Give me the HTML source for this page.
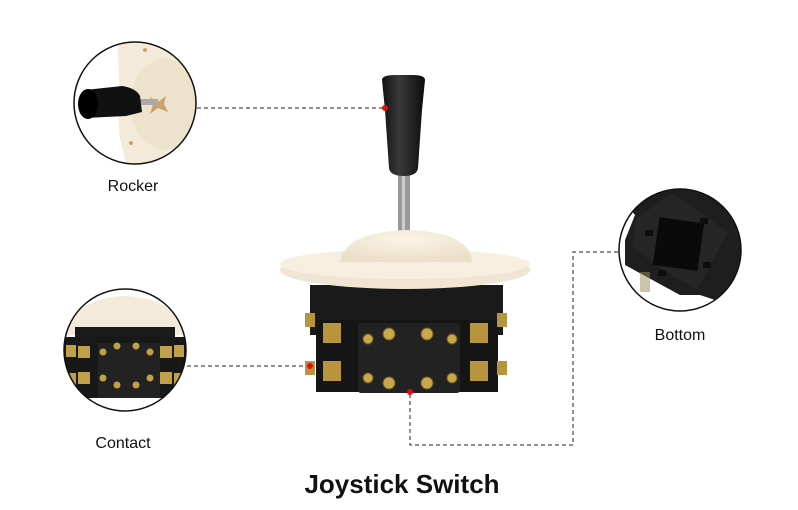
<!DOCTYPE html>
<html><head><meta charset="utf-8"><style>
html,body{margin:0;padding:0;background:#fff;width:798px;height:510px;overflow:hidden}
svg{display:block}
text{font-family:"Liberation Sans",Arial,sans-serif}
</style></head><body>
<svg width="798" height="510" viewBox="0 0 798 510" xmlns="http://www.w3.org/2000/svg">
<defs>
<linearGradient id="kn" x1="0" x2="1"><stop offset="0" stop-color="#111"/><stop offset="0.4" stop-color="#3a3a3a"/><stop offset="1" stop-color="#0c0c0c"/></linearGradient>
<radialGradient id="dm" cx="0.5" cy="0.3" r="0.7"><stop offset="0" stop-color="#fbf4e6"/><stop offset="1" stop-color="#eadfc8"/></radialGradient>
<clipPath id="c1"><circle cx="135" cy="103" r="61"/></clipPath>
<clipPath id="c2"><circle cx="125" cy="350" r="61"/></clipPath>
<clipPath id="c3"><circle cx="680" cy="250" r="61"/></clipPath>
</defs>
<g fill="none" stroke="#222" stroke-width="1" stroke-dasharray="4,3">
<path d="M197 108H385"/><path d="M187 366H310"/>
<path d="M618 252H573V445H410V392"/>
</g>
<!-- main switch -->
<rect x="398" y="172" width="12" height="62" fill="#9a9a9a"/>
<rect x="402" y="172" width="3" height="62" fill="#ccc"/>
<path d="M382 80 Q382 75 395 75 L413 75 Q425 75 425 80 L422 110 L418 168 Q417 176 404 176 Q390 176 389 168 L385 110 Z" fill="url(#kn)"/>
<rect x="310" y="285" width="193" height="50" fill="#1a1a1a"/>
<rect x="316" y="320" width="182" height="72" fill="#151515"/>
<rect x="358" y="323" width="102" height="70" fill="#222" rx="3"/>
<g fill="#b8943c">
<rect x="305" y="313" width="10" height="14"/><rect x="305" y="361" width="10" height="14"/>
<rect x="497" y="313" width="10" height="14"/><rect x="497" y="361" width="10" height="14"/>
<rect x="323" y="323" width="18" height="20"/><rect x="323" y="361" width="18" height="20"/>
<rect x="470" y="323" width="18" height="20"/><rect x="470" y="361" width="18" height="20"/>
</g>
<g fill="#c8a84a" stroke="#6a5a20">
<circle cx="389" cy="334" r="6"/><circle cx="427" cy="334" r="6"/>
<circle cx="389" cy="383" r="6"/><circle cx="427" cy="383" r="6"/>
<circle cx="368" cy="339" r="5"/><circle cx="452" cy="339" r="5"/>
<circle cx="368" cy="378" r="5"/><circle cx="452" cy="378" r="5"/>
</g>
<ellipse cx="405" cy="270" rx="125" ry="19" fill="#efe5d2"/>
<ellipse cx="405" cy="264" rx="125" ry="15" fill="#f6efe0"/>
<path d="M340 262 Q345 232 407 230 Q470 232 472 262 Z" fill="url(#dm)"/>
<circle cx="385" cy="108" r="3" fill="#e01010"/>
<circle cx="310" cy="366" r="3" fill="#e01010"/>
<circle cx="410" cy="392" r="3" fill="#e01010"/>
<!-- circle 1 rocker -->
<g clip-path="url(#c1)">
<rect x="70" y="40" width="130" height="130" fill="#fff"/>
<path d="M118 40 L200 40 L200 170 L130 170 Q115 140 120 100 Q118 60 118 40 Z" fill="#f3ead9"/>
<ellipse cx="165" cy="104" rx="35" ry="45" fill="#ede2cc"/>
<path d="M150 97 L158 102 L166 96 L164 104 L168 112 L158 108 L150 114 L153 104 Z" fill="#c9a46a"/>
<circle cx="145" cy="50" r="2" fill="#c9a46a"/><circle cx="131" cy="143" r="2" fill="#c9a46a"/>
<rect x="132" y="99" width="26" height="6" fill="#aaa"/>
<path d="M85 90 L122 86 Q136 88 140 96 L142 112 L126 116 L85 118 Z" fill="#111"/>
<ellipse cx="88" cy="104" rx="10" ry="15" fill="#000"/>
</g>
<circle cx="135" cy="103" r="61" fill="none" stroke="#111" stroke-width="1.5"/>
<!-- circle 2 contact -->
<g clip-path="url(#c2)">
<rect x="60" y="285" width="130" height="130" fill="#fff"/>
<path d="M64 335 Q75 298 125 296 Q175 298 186 335 Z" fill="#f3ead9"/>
<rect x="75" y="327" width="100" height="12" fill="#1a1a1a"/>
<rect x="63" y="337" width="124" height="61" fill="#181818"/>
<rect x="98" y="343" width="62" height="55" fill="#222"/>
<g fill="#c0a048"><circle cx="103" cy="352" r="3.5"/><circle cx="117" cy="346" r="3.5"/><circle cx="136" cy="346" r="3.5"/><circle cx="150" cy="352" r="3.5"/><circle cx="103" cy="378" r="3.5"/><circle cx="117" cy="385" r="3.5"/><circle cx="136" cy="385" r="3.5"/><circle cx="150" cy="378" r="3.5"/><rect x="66" y="345" width="10" height="12"/><rect x="78" y="346" width="12" height="12"/><rect x="160" y="346" width="12" height="12"/><rect x="174" y="345" width="10" height="12"/><rect x="66" y="373" width="10" height="12"/><rect x="78" y="372" width="12" height="12"/><rect x="160" y="372" width="12" height="12"/><rect x="174" y="373" width="10" height="12"/></g>
</g>
<circle cx="125" cy="350" r="61" fill="none" stroke="#111" stroke-width="1.5"/>
<!-- circle 3 bottom -->
<g clip-path="url(#c3)">
<rect x="615" y="185" width="130" height="130" fill="#fff"/>
<path d="M610 185 L750 185 L750 300 L730 305 L700 295 L680 295 L625 265 L625 240 L635 215 Z" fill="#1e1e1e"/>
<path d="M637 218 L672 193 L728 232 L697 290 L660 268 L632 246 Z" fill="#262626"/>
<rect x="656" y="220" width="45" height="48" fill="#0a0a0a" transform="rotate(8 678 244)"/>
<g fill="#0d0d0d"><rect x="645" y="230" width="8" height="6"/><rect x="700" y="218" width="8" height="6"/><rect x="703" y="262" width="8" height="6"/><rect x="658" y="270" width="8" height="6"/></g>
<rect x="640" y="272" width="10" height="20" fill="#9c8a5a" opacity="0.5"/>
</g>
<circle cx="680" cy="250" r="61" fill="none" stroke="#111" stroke-width="1.5"/>
<text x="133" y="191" font-size="16" text-anchor="middle" fill="#111">Rocker</text>
<text x="123" y="448" font-size="16" text-anchor="middle" fill="#111">Contact</text>
<text x="680" y="340" font-size="16" text-anchor="middle" fill="#111">Bottom</text>
<text x="402" y="493" font-size="26" font-weight="bold" text-anchor="middle" fill="#111">Joystick Switch</text>
</svg>
</body></html>
